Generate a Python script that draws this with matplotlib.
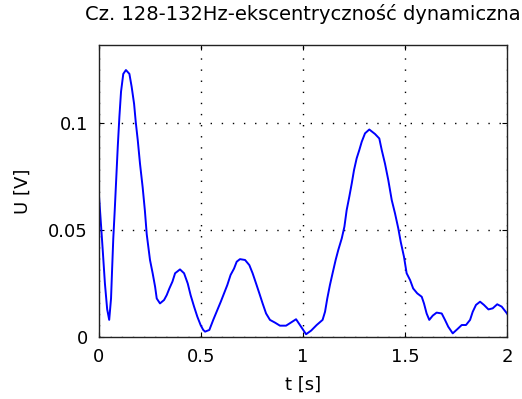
import numpy as np
import matplotlib
matplotlib.use("Agg")
import matplotlib.pyplot as plt

# values
t = [0, 0.008, 0.018, 0.029, 0.04, 0.05, 0.059, 0.064, 0.07, 0.077,
     0.084, 0.092, 0.1, 0.108, 0.119, 0.132, 0.149, 0.16, 0.172, 0.18,
     0.19, 0.201, 0.214, 0.225, 0.234, 0.25, 0.263, 0.275, 0.283, 0.299,
     0.319, 0.332, 0.345, 0.36, 0.373, 0.397, 0.417, 0.435, 0.449, 0.466,
     0.482, 0.498, 0.511, 0.52, 0.541, 0.56, 0.58, 0.597, 0.613, 0.629,
     0.645, 0.662, 0.675, 0.691, 0.716, 0.737, 0.753, 0.77, 0.786, 0.802,
     0.819, 0.838, 0.863, 0.887, 0.917, 0.94, 0.966, 0.985, 1.015, 1.04,
     1.067, 1.096, 1.108, 1.119, 1.132, 1.145, 1.16, 1.173, 1.19, 1.203,
     1.214, 1.227, 1.239, 1.25, 1.263, 1.276, 1.288, 1.304, 1.325, 1.353,
     1.374, 1.386, 1.402, 1.418, 1.435, 1.451, 1.467, 1.479, 1.495, 1.508,
     1.525, 1.54, 1.56, 1.582, 1.593, 1.606, 1.619, 1.636, 1.655, 1.68,
     1.696, 1.712, 1.734, 1.757, 1.778, 1.799, 1.819, 1.832, 1.848, 1.868,
     1.887, 1.909, 1.93, 1.952, 1.974, 2.0]
u = [0.066, 0.055, 0.041, 0.025, 0.013, 0.008, 0.018, 0.031, 0.046, 0.059,
     0.073, 0.089, 0.103, 0.1147, 0.123, 0.1248, 0.123, 0.117, 0.109, 0.1006,
     0.092, 0.081, 0.070, 0.059, 0.048, 0.036, 0.0298, 0.0235, 0.018, 0.0157,
     0.0173, 0.0196, 0.0227, 0.0259, 0.0298, 0.0316, 0.0298, 0.025, 0.0196, 0.0142,
     0.0095, 0.0056, 0.0033, 0.0025, 0.0033, 0.008, 0.0126, 0.0165, 0.0204, 0.0243,
     0.029, 0.032, 0.0352, 0.0364, 0.036, 0.0336, 0.0298, 0.025, 0.0204, 0.0157,
     0.011, 0.008, 0.0067, 0.0053, 0.0053, 0.0067, 0.0083, 0.0056, 0.0013, 0.003,
     0.0056, 0.008, 0.0118, 0.018, 0.0243, 0.0298, 0.036, 0.0407, 0.0461, 0.0516,
     0.0593, 0.0656, 0.0718, 0.078, 0.0835, 0.0874, 0.0913, 0.0952, 0.097, 0.0949,
     0.0928, 0.0874, 0.081, 0.0734, 0.064, 0.0578, 0.0508, 0.0445, 0.0375, 0.0298,
     0.0266, 0.0227, 0.0204, 0.0188, 0.0157, 0.011, 0.008, 0.01, 0.0114, 0.011,
     0.008, 0.0048, 0.0017, 0.0037, 0.0056, 0.0056, 0.008, 0.0118, 0.015, 0.0165,
     0.015, 0.0129, 0.0134, 0.0153, 0.0142, 0.011]

x_ticks = [0, 0.5, 1, 1.5, 2]
x_tick_labels = ["0", "0.5", "1", "1.5", "2"]
y_ticks = [0, 0.05, 0.1]
y_tick_labels = ["0", "0.05", "0.1"]

plt.rcParams['font.family'] = ['DejaVu Sans']
fs = 13

fig = plt.figure(figsize=(5.22, 3.99), dpi=100)
ax = fig.add_axes([99 / 522, 1 - 337 / 399, 408 / 522, 292 / 399])

ax.plot(t, u, color=(0, 0, 1), linewidth=1.4)

ax.set_xlim(0, 2)
ax.set_ylim(0, 0.1365)
ax.set_xticks(x_ticks)
ax.set_xticklabels(x_tick_labels, fontsize=fs)
ax.set_yticks(y_ticks)
ax.set_yticklabels(y_tick_labels, fontsize=fs)
ax.tick_params(direction='in', length=3.5, width=0.8, top=True, right=True,
               pad=8, colors='black')

ax.grid(True, color='black', linewidth=1.0, linestyle=(0, (1, 7)))
for s in ax.spines.values():
    s.set_linewidth(1.0)
    s.set_color('#222222')

ax.set_xlabel("t [s]", fontsize=fs, labelpad=7)
ax.set_ylabel("U [V]", fontsize=fs, labelpad=12)
ax.set_title("Cz. 128-132Hz-ekscentryczność dynamiczna", fontsize=14, pad=18)

fig.savefig("out.png", dpi=100)
